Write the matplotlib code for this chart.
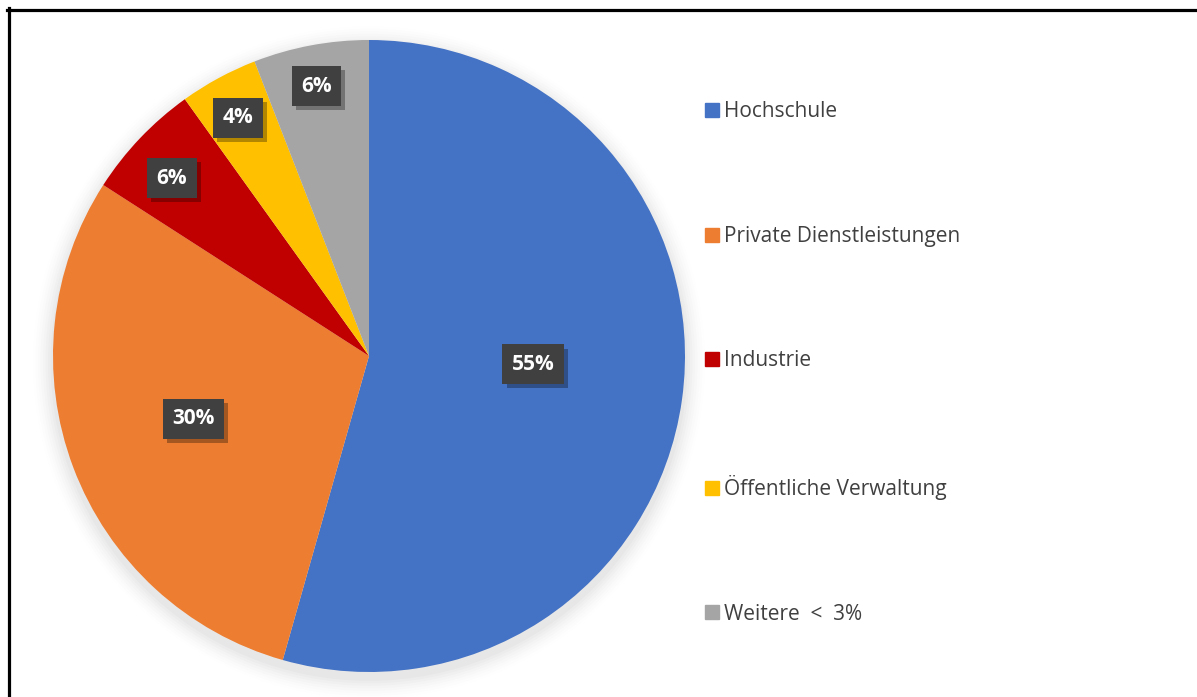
import numpy as np
import matplotlib
matplotlib.use('Agg')
import matplotlib.pyplot as plt
import matplotlib.patheffects as pe
from matplotlib.lines import Line2D
from matplotlib.patches import Circle

plt.rcParams['font.family'] = ['Open Sans', 'DejaVu Sans']

# Daten (Anteile in %)
categories = ['Hochschule', 'Private Dienstleistungen', 'Industrie',
              'Öffentliche Verwaltung', 'Weitere  <  3%']
shares = [54.4, 29.7, 6.0, 4.0, 5.9]
pct_labels = ['55%', '30%', '6%', '4%', '6%']
colors = ['#4472C4', '#ED7D31', '#C00000', '#FFC000', '#A5A5A5']
label_dist = [0.52, 0.59, 0.84, 0.86, 0.87]
label_turn = [5.0, -1.0, 1.5, 0.4, 0.4]   # Excel "best fit" Abweichung in Grad

W, H = 1197, 697
fig = plt.figure(figsize=(W / 100, H / 100), dpi=100)

# pie axes: center (369, 356) px, radius 316 px
cx, cy, r = 369, 356, 316
ax = fig.add_axes([(cx - r) / W, (H - cy - r) / H, 2 * r / W, 2 * r / H])

# weicher Schatten
for i, a in enumerate(np.linspace(0.018, 0.004, 8)):
    ax.add_patch(Circle((0.0, -0.02), 1.0 + 0.008 * (i + 1), color='black',
                        alpha=a, lw=0, zorder=0, clip_on=False))

wedges, _ = ax.pie(shares, colors=colors, startangle=90, counterclock=False,
                   radius=1.0, wedgeprops=dict(linewidth=0))
for w in wedges:
    w.set_zorder(2)
ax.set_xlim(-1, 1)
ax.set_ylim(-1, 1)
ax.set_aspect('equal')
ax.axis('off')

for w, lab, d, turn in zip(wedges, pct_labels, label_dist, label_turn):
    ang = np.deg2rad((w.theta1 + w.theta2) / 2 + turn)
    x, y = d * np.cos(ang), d * np.sin(ang)
    t = ax.text(x, y, lab, ha='center', va='center', fontsize=15, fontweight='bold',
                color='white', zorder=4,
                bbox=dict(boxstyle='square,pad=0.45', fc='#404040', ec='none'))
    t.get_bbox_patch().set_path_effects([
        pe.SimplePatchShadow(offset=(3, -3), shadow_rgbFace='black', alpha=0.3),
        pe.Normal()])

# Legende
handles = [Line2D([0], [0], marker='s', linestyle='none', markersize=10,
                  markerfacecolor=c, markeredgecolor=c) for c in colors]
fig.legend(handles, categories, loc='upper left', bbox_to_anchor=(694 / W, 1 - 91 / H),
           frameon=False, fontsize=15, labelcolor='#404040', handlelength=0.7,
           handletextpad=0.25, labelspacing=4.97, borderpad=0)

# Rahmen oben und links
fig.add_artist(Line2D([7 / W, 1], [1 - 9.5 / H, 1 - 9.5 / H], color='black', lw=2.3))
fig.add_artist(Line2D([8.5 / W, 8.5 / W], [0, 1 - 8 / H], color='black', lw=2.3))

fig.savefig('out.png', dpi=100, facecolor='white')
